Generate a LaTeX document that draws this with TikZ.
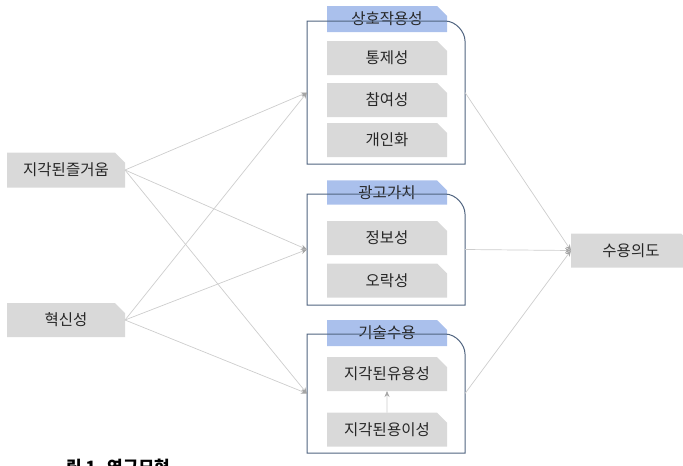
\documentclass[tikz,border=0pt]{standalone}
\usepackage{fontspec}
\setmainfont{Noto Sans CJK KR}
\usetikzlibrary{shapes.misc,arrows.meta}
\definecolor{boxgray}{RGB}{217,217,217}
\definecolor{headblue}{RGB}{170,192,236}
\definecolor{framecol}{RGB}{80,100,128}
\definecolor{linegray}{RGB}{205,205,205}
\definecolor{tipgray}{RGB}{165,165,165}
\definecolor{textgray}{RGB}{38,38,38}

% outline of a group, rounded only at the top right
\newcommand{\grpoutline}[1]{%
  \draw[grpline] (#1.south west) -- (#1.north west) -- ([xshift=-20pt]#1.north east)
    .. controls ([xshift=-9pt]#1.north east) and ([yshift=-11pt]#1.north east)
    .. ([yshift=-20pt]#1.north east) -- (#1.south east) -- cycle;}

\begin{document}
\begin{tikzpicture}[x=1pt,y=-1pt,
    cutbox/.style={chamfered rectangle, chamfered rectangle corners=north east,
      chamfered rectangle xsep=5pt, chamfered rectangle ysep=5pt,
      inner sep=0pt, outer sep=0pt, text=textgray,
      font=\fontsize{15.5}{18}\selectfont},
    itembox/.style={cutbox, fill=boxgray, minimum width=120pt, minimum height=34pt},
    headbox/.style={cutbox, fill=headblue, minimum width=120pt},
    grpbox/.style={rectangle, inner sep=0pt, outer sep=0pt, minimum width=158pt},
    grpline/.style={draw=framecol, line width=1pt},
    conn/.style={draw=linegray, line width=0.7pt, -{Stealth[length=6pt,width=5pt,color=tipgray]}}]
    \useasboundingbox (0,0) rectangle (683,466);

    % Draw the two causes and the outcome
    \node[itembox, minimum width=118pt, minimum height=35pt] (joy) at (66,170) {지각된즐거움};
    \node[itembox, minimum width=118pt] (innov) at (66,320) {혁신성};
    \node[itembox] (intent) at (631,250.5) {수용의도};

    % Draw the group headers
    \node[headbox, minimum height=26pt] (interhd) at (387,19) {상호작용성};
    \node[headbox, minimum height=22pt] (advalhd) at (387,192.5) {광고가치};
    \node[headbox, minimum height=26pt] (techhd) at (387,333) {기술수용};

    % Draw the items of each group
    \node[itembox] (ctrl) at (387,58) {통제성};
    \node[itembox] (part) at (387,100) {참여성};
    \node[itembox] (pers) at (387,140) {개인화};
    \node[itembox] (info) at (387,238) {정보성};
    \node[itembox] (ente) at (387,280.5) {오락성};
    \node[itembox] (usef) at (387,374) {지각된유용성};
    \node[itembox] (ease) at (387,429.5) {지각된용이성};
    \draw[conn] (ease) -- (usef);

    % Draw the group frames
    \node[grpbox, minimum height=143pt] (inter) at (386,92.5) {};
    \node[grpbox, minimum height=111pt] (adval) at (386,249.5) {};
    \node[grpbox, minimum height=119pt] (techacc) at (386,393.5) {};
    \foreach \grp in {inter,adval,techacc}
      \grpoutline{\grp};

    % Draw the paths
    \foreach \src in {joy,innov}
      \foreach \dst in {inter,adval,techacc}
        \draw[conn] (\src.east) -- (\dst.west);
    \foreach \grp in {inter,adval,techacc}
      \draw[conn] (\grp.east) -- (intent.west);

    % Caption, cut by the page edge
    \node[anchor=north west, inner sep=0pt, font=\fontsize{17}{20}\selectfont\bfseries] (capt) at (66,459) {림 1. 연구모형};
  \end{tikzpicture}
\end{document}
